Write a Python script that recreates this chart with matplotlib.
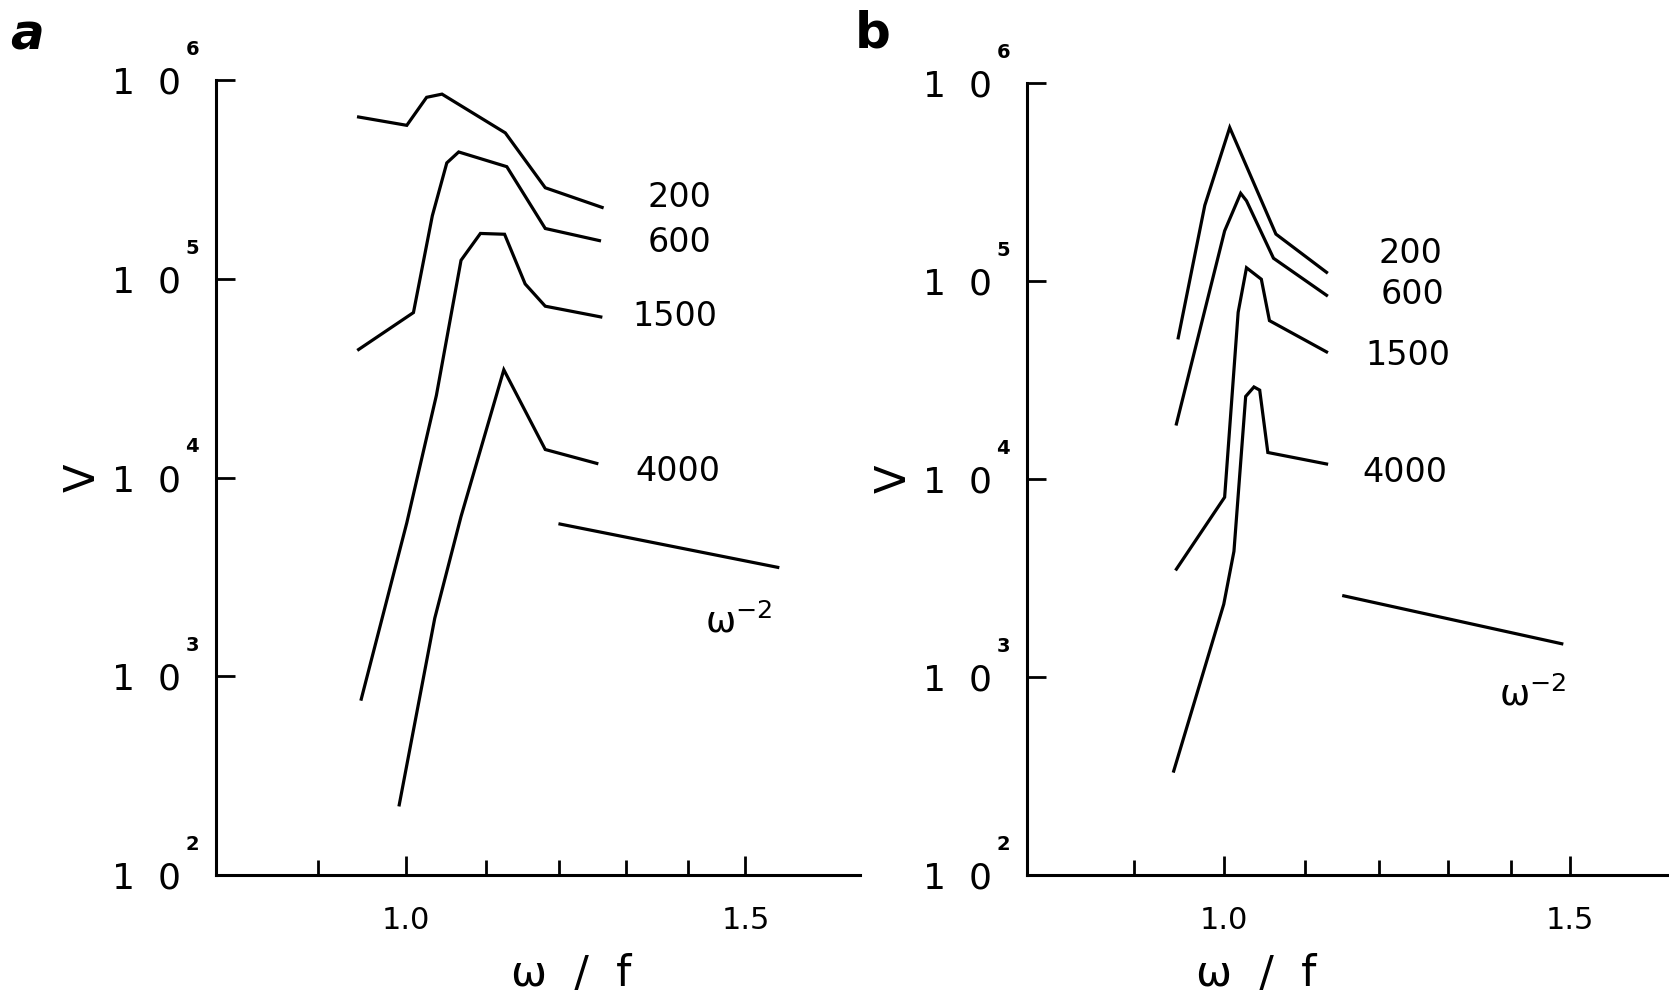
import numpy as np
import matplotlib
matplotlib.use("Agg")
import matplotlib.pyplot as plt
from matplotlib.ticker import FixedLocator, NullFormatter

plt.rcParams['font.family'] = ['DejaVu Sans']

# ---- panel a : V vs w/f, one curve per depth label ----
a_labels = ["200", "600", "1500", "4000"]
a_x = [
    [0.945, 1.001, 1.025, 1.044, 1.126, 1.181, 1.264],
    [0.945, 1.009, 1.032, 1.050, 1.065, 1.128, 1.181, 1.260],
    [0.948, 1.001, 1.037, 1.068, 1.093, 1.125, 1.153, 1.181, 1.262],
    [0.992, 1.035, 1.068, 1.124, 1.181, 1.256],
]
a_logv = [
    [5.814, 5.772, 5.913, 5.929, 5.734, 5.458, 5.359],
    [4.644, 4.830, 5.317, 5.583, 5.638, 5.564, 5.253, 5.192],
    [2.885, 3.772, 4.413, 5.093, 5.228, 5.224, 4.974, 4.862, 4.808],
    [2.353, 3.292, 3.804, 4.542, 4.141, 4.071],
]
a_label_x = [1.387, 1.387, 1.378, 1.384]
a_label_logv = [5.407, 5.183, 4.808, 4.029]
a_ref_x = [1.202, 1.559]          # w^-2 reference segment
a_ref_logv = [3.766, 3.548]
a_ref_txt = (1.488, 3.276)

# ---- panel b ----
b_labels = ["200", "600", "1500", "4000"]
b_x = [
    [0.948, 0.978, 1.007, 1.063, 1.128],
    [0.946, 1.001, 1.020, 1.027, 1.060, 1.128],
    [0.946, 1.001, 1.017, 1.027, 1.045, 1.055, 1.128],
    [0.943, 1.000, 1.012, 1.026, 1.036, 1.043, 1.053, 1.128],
]
b_logv = [
    [4.713, 5.382, 5.775, 5.237, 5.044],
    [4.278, 5.253, 5.443, 5.405, 5.115, 4.928],
    [3.545, 3.908, 4.842, 5.067, 5.009, 4.800, 4.642],
    [2.525, 3.368, 3.635, 4.417, 4.465, 4.449, 4.134, 4.076],
]
b_label_x = [1.245, 1.247, 1.241, 1.236]
b_label_logv = [5.141, 4.932, 4.626, 4.031]
b_ref_x = [1.151, 1.486]
b_ref_logv = [3.410, 3.168]
b_ref_txt = (1.437, 2.911)

x_major = [1.0, 1.5]
x_minor = [0.9, 1.1, 1.2, 1.3, 1.4]
y_dec = [2, 3, 4, 5, 6]

LW = 2.3
FS = 24

fig = plt.figure(figsize=(16.69, 9.99), dpi=100)
ax_a = fig.add_axes([0.1294, 0.1241, 0.3859, 0.7958])
ax_b = fig.add_axes([0.6153, 0.1241, 0.3847, 0.7928])


def draw(ax, xs, lvs, labs, lab_x, lab_lv, ref_x, ref_lv, ref_txt, xlim, xlab_pos):
    for x, lv in zip(xs, lvs):
        ax.plot(x, 10 ** np.array(lv), color="black", lw=LW, solid_joinstyle="miter")
    for t, x, lv in zip(labs, lab_x, lab_lv):
        ax.text(x, 10 ** lv, t, fontsize=FS, ha="center", va="center")
    ax.plot(ref_x, 10 ** np.array(ref_lv), color="black", lw=LW)
    ax.text(ref_txt[0], 10 ** ref_txt[1], r"$\mathregular{\omega^{-2}}$",
            fontsize=26, ha="center", va="center")

    ax.set_xscale("log")
    ax.set_yscale("log")
    ax.set_xlim(*xlim)
    ax.set_ylim(1e2, 1e6)
    for s in ["top", "right"]:
        ax.spines[s].set_visible(False)
    for s in ["left", "bottom"]:
        ax.spines[s].set_linewidth(2.2)

    ax.xaxis.set_major_locator(FixedLocator(x_major))
    ax.xaxis.set_minor_locator(FixedLocator(x_minor))
    ax.xaxis.set_minor_formatter(NullFormatter())
    ax.set_xticklabels(["1.0", "1.5"])
    ax.yaxis.set_major_locator(FixedLocator([10.0 ** d for d in y_dec]))
    ax.yaxis.set_minor_locator(FixedLocator([]))
    ax.set_yticklabels(["1  0"] * len(y_dec))
    # exponents drawn above-right of each "1 0"
    for d in y_dec:
        ax.annotate(str(d), xy=(0, 10.0 ** d), xycoords=("axes fraction", "data"),
                    xytext=(-17, 22), textcoords="offset points",
                    fontsize=14, fontweight="bold", ha="center", va="center")

    ax.tick_params(axis="x", which="major", direction="in", length=14, width=2,
                   pad=22, labelsize=22)
    ax.tick_params(axis="x", which="minor", direction="in", length=11, width=2)
    ax.tick_params(axis="y", which="major", direction="in", length=14, width=2,
                   pad=25, labelsize=26)

    ax.set_xlabel("ω  /  f", fontsize=31)
    ax.xaxis.set_label_coords(xlab_pos, -0.098)
    ax.set_ylabel("V", fontsize=30)
    ax.yaxis.set_label_coords(-0.175, 0.5)


draw(ax_a, a_x, a_logv, a_labels, a_label_x, a_label_logv,
     a_ref_x, a_ref_logv, a_ref_txt, (0.797, 1.720), 0.552)
draw(ax_b, b_x, b_logv, b_labels, b_label_x, b_label_logv,
     b_ref_x, b_ref_logv, b_ref_txt, (0.794, 1.685), 0.357)

fig.text(0.006, 0.988, "a", fontsize=36, fontweight="bold", fontstyle="italic",
         ha="left", va="top")
fig.text(0.512, 0.990, "b", fontsize=36, fontweight="bold",
         ha="left", va="top")

fig.savefig("out.png", dpi=100)
